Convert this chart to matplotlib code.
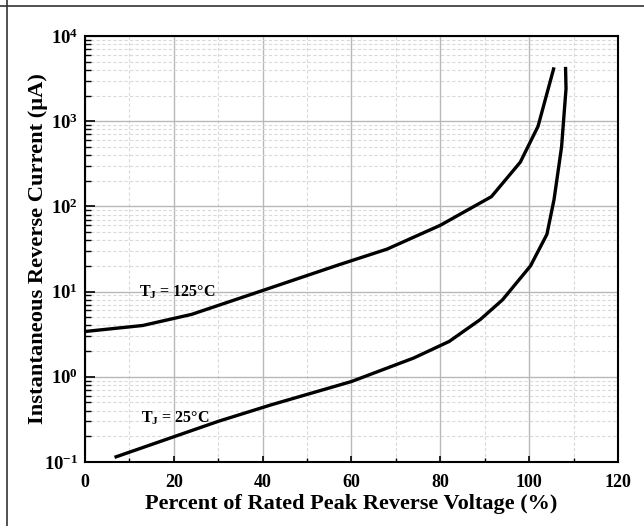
import math
import matplotlib
matplotlib.use("Agg")
import matplotlib.pyplot as plt
from matplotlib.lines import Line2D
from matplotlib.ticker import LogLocator, FixedLocator, FuncFormatter, NullFormatter

plt.rcParams['font.family'] = ['Liberation Serif', 'DejaVu Serif']
plt.rcParams['font.weight'] = 'bold'
plt.rcParams['mathtext.fontset'] = 'custom'
plt.rcParams['mathtext.rm'] = 'Liberation Serif:bold'
plt.rcParams['mathtext.bf'] = 'Liberation Serif:bold'
plt.rcParams['mathtext.it'] = 'Liberation Serif:bold:italic'

# Data
v125 = [0, 13, 24, 40, 57, 68, 80, 91.5, 98, 102, 105.5]
i125 = [3.4, 4.0, 5.4, 10.3, 20.5, 31.5, 60, 130, 330, 870, 4100]
v25 = [7, 30, 42, 60, 74, 82, 89, 94, 100.3, 104, 105.6, 107.3, 108.3, 108.2]
i25 = [0.115, 0.3, 0.47, 0.88, 1.66, 2.6, 4.7, 8.0, 20, 47, 120, 500, 2400, 4150]

xticks = [0, 20, 40, 60, 80, 100, 120]
xlabel = 'Percent of Rated Peak Reverse Voltage (%)'
ylabel = 'Instantaneous Reverse Current (µA)'

fig = plt.figure(figsize=(6.44, 5.26), dpi=100)
ax = fig.add_axes([0.132, 0.1217, 0.8276, 0.8099])

ax.plot(v125, i125, color='black', lw=2.4, solid_joinstyle='round', zorder=3)
ax.plot(v25, i25, color='black', lw=2.4, solid_joinstyle='round', zorder=3)

ax.set_yscale('log')
ax.set_xlim(0, 120)
ax.set_ylim(0.1, 1e4)

ax.xaxis.set_major_locator(FixedLocator(xticks))
ax.xaxis.set_minor_locator(FixedLocator([10, 30, 50, 70, 90, 110]))
ax.yaxis.set_major_locator(LogLocator(base=10, numticks=10))
ax.yaxis.set_minor_locator(LogLocator(base=10, subs=range(2, 10), numticks=20))
ax.yaxis.set_minor_formatter(NullFormatter())
ax.yaxis.set_major_formatter(FuncFormatter(lambda v, p: r'$10^{%d}$' % round(math.log10(v))))

ax.grid(which='major', color='#b8b8b8', lw=1.0, ls='-', zorder=0)
ax.grid(which='minor', color='#dadada', lw=0.8, ls=(0, (3, 2)), zorder=0)

ax.tick_params(axis='both', which='both', direction='in', top=False, right=False)
ax.tick_params(axis='y', which='major', length=7, width=1.2, pad=5, labelsize=13.5)
ax.tick_params(axis='y', which='minor', length=4, width=1.0)
ax.tick_params(axis='x', which='major', length=4, width=1.2, pad=9, labelsize=13)
ax.tick_params(axis='x', which='minor', length=3, width=1.0)
for lab in ax.get_xticklabels() + ax.get_yticklabels():
    lab.set_fontweight('bold')

for s in ax.spines.values():
    s.set_linewidth(1.5)
    s.set_color('black')

ax.set_xlabel(xlabel, fontsize=16, fontweight='bold', va='center')
ax.set_ylabel(ylabel, fontsize=16.2, fontweight='bold', va='center')
ax.xaxis.set_label_coords(0.5, -0.099)
ax.yaxis.set_label_coords(-0.089, 0.5)

ax.text(20.8, 9.8, r'$\mathrm{T_J}$ = 125°C', fontsize=11.5, fontweight='bold',
        ha='center', va='center')
ax.text(20.3, 0.33, r'$\mathrm{T_J}$ = 25°C', fontsize=11.5, fontweight='bold',
        ha='center', va='center')

# frame artifacts of the source image
fig.add_artist(Line2D([0, 1], [1 - 6 / 526, 1 - 6 / 526], transform=fig.transFigure, color='#333333', lw=1.2))
fig.add_artist(Line2D([7 / 644, 7 / 644], [0, 1], transform=fig.transFigure, color='#333333', lw=1.2))

fig.savefig('out.png', dpi=100)
